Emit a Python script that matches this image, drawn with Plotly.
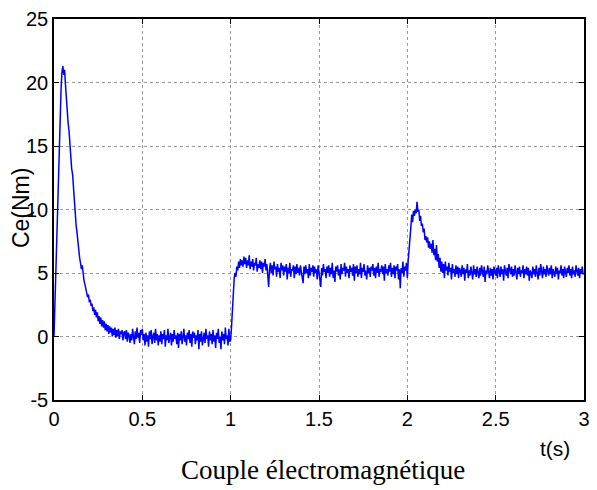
import numpy as np
import plotly.graph_objects as go

# Segment A: t = 0.000 .. 0.995 (step 0.005)
ce_a = [
    0, 2.5, 5.5, 8.5, 10.8, 13.5, 16.0, 17.8, 19.5, 20.8, 21.3, 20.6, 21.0, 19.8, 18.6, 18.2, 16.8, 16.2, 15.0, 14.3,
    13.2, 12.8, 11.6, 10.4, 9.3, 8.8, 8.2, 7.4, 7.0, 6.2, 5.8, 5.3, 5.6, 4.7, 4.4, 4.1, 3.7, 3.5, 3.1, 3.3,
    2.7, 2.9, 2.4, 2.6, 2.0, 2.3, 1.7, 2.1, 1.5, 1.9, 1.2, 1.6, 1.0, 1.5, 0.8, 1.3, 0.7, 1.2, 0.5, 1.0,
    0.4, 0.9, 0.2, 0.8, 0.3, 0.7, 0.0, 0.6, 0.1, 0.7, -0.1, 0.5, 0.0, 0.6, -0.2, 0.4, 0.2, 0.5, -0.3, 0.3,
    0.4, -0.2, 0.5, -0.4, 0.3, 0.1, -0.5, 0.2, -0.3, 0.6, 0.0, -0.6, 0.4, -0.2, 0.7, -0.1, 0.3, -0.5, 0.5, 0.1,
    0.6, -0.3, 0.2, -0.7, 0.3, -0.4, 0.1, -0.8, 0.4, -0.2, 0.5, -0.6, 0.0, 0.3, -0.5, 0.6, -0.3, 0.2, -0.7, 0.1,
    -0.4, 0.4, -0.6, 0.2, -0.2, 0.5, -0.8, 0.1, -0.3, 0.6, -0.5, 0.0, 0.3, -0.7, 0.2, -0.4, 0.5, -0.2, 0.1, -0.6,
    0.3, -0.9, 0.2, -0.3, 0.4, -0.6, 0.0, 0.6, -0.4, 0.1, -0.7, 0.3, -0.2, 0.5, -0.5, 0.2, -0.8, 0.4, -0.1, 0.3,
    -0.6, 0.1, -0.3, 0.5, -1.0, 0.2, -0.4, 0.4, -0.7, 0.0, 0.3, -0.5, 0.6, -0.2, 0.1, -0.8, 0.4, -0.3, 0.2, -0.6,
    0.5, -0.4, 0.1, -0.9, 0.3, -0.2, 0.6, -0.5, 0.0, -1.0, 0.4, -0.3, 0.2, -0.6, 0.7, -0.2, 0.1, -0.7, 0.6, -0.4,
]
# Segment B: t = 1.000 .. 1.995
ce_b = [
    -0.3, 0.8, 2.5, 3.8, 4.6, 5.0, 4.7, 5.5, 5.2, 5.9, 5.4, 6.1, 5.6, 6.0, 5.5, 6.3, 5.7, 6.2, 5.4, 6.0,
    5.6, 6.4, 5.3, 5.9, 5.5, 6.1, 5.2, 5.8, 5.6, 6.2, 5.1, 5.7, 5.4, 6.0, 5.3, 5.9, 5.0, 5.8, 5.5, 6.1,
    5.2, 5.7, 4.6, 3.9, 5.3, 5.8, 5.0, 5.6, 4.8, 5.9, 5.3, 5.5, 4.7, 5.7, 5.1, 5.4, 4.6, 5.8, 5.2, 5.6,
    4.8, 5.5, 5.1, 5.7, 4.5, 5.4, 5.0, 5.8, 4.7, 5.3, 5.2, 5.6, 4.6, 5.5, 4.9, 5.7, 5.0, 5.4, 4.8, 5.6,
    5.1, 4.6, 4.2, 5.5, 4.9, 5.6, 5.0, 5.3, 4.6, 5.7, 4.8, 5.4, 5.1, 5.6, 4.7, 5.5, 5.0, 5.3, 4.5, 5.6,
    5.0, 4.4, 3.9, 5.4, 4.8, 5.7, 5.1, 5.3, 4.6, 5.5, 5.0, 5.6, 4.7, 5.4, 4.9, 5.8, 4.6, 5.2, 4.3, 5.5,
    5.1, 5.6, 4.8, 5.3, 4.5, 5.7, 4.9, 5.4, 5.2, 5.8, 4.7, 5.5, 5.0, 5.3, 4.6, 5.6, 5.1, 5.4, 4.8, 5.7,
    4.4, 5.5, 5.0, 5.6, 4.7, 5.3, 4.9, 5.8, 4.6, 5.4, 5.1, 5.7, 4.8, 5.2, 4.5, 5.6, 5.0, 5.4, 4.7, 5.5,
    5.2, 5.7, 4.8, 5.4, 4.6, 5.5, 5.0, 5.8, 4.7, 5.3, 5.1, 5.6, 4.9, 5.5, 4.4, 5.7, 5.0, 5.3, 4.8, 5.6,
    5.1, 5.8, 4.7, 5.4, 4.9, 5.6, 4.6, 5.5, 5.2, 5.7, 4.5, 5.3, 3.8, 5.4, 5.0, 5.9, 4.7, 5.5, 5.2, 5.8,
]
# Segment C: t = 2.000 .. 3.000
ce_c = [
    4.6, 6.0, 7.2, 8.0, 8.6, 9.6, 9.0, 9.9, 9.5, 10.0, 9.7, 10.6, 9.8, 10.0, 9.1, 9.5, 8.7, 8.9, 8.2, 8.5,
    7.6, 7.9, 7.4, 7.8, 7.0, 7.5, 6.9, 7.3, 6.6, 7.6, 6.4, 6.9, 6.0, 7.2, 5.9, 6.5, 5.4, 6.2, 5.1, 5.9,
    5.0, 5.7, 4.6, 5.9, 5.2, 5.5, 4.8, 5.8, 5.1, 5.4, 4.5, 5.7, 5.0, 5.3, 4.7, 5.6, 4.9, 5.5, 4.6, 5.4,
    5.2, 4.7, 5.6, 4.9, 5.4, 4.4, 5.3, 5.0, 5.7, 4.6, 5.2, 4.8, 5.5, 5.0, 4.5, 5.6, 4.9, 5.3, 4.7, 5.5,
    5.0, 4.6, 5.4, 4.8, 5.6, 5.1, 4.7, 5.5, 4.3, 5.2, 4.9, 5.6, 5.0, 4.6, 5.4, 4.8, 5.3, 4.5, 5.5, 5.0,
    4.8, 5.4, 4.6, 5.6, 5.0, 4.7, 5.5, 4.9, 5.3, 4.4, 5.6, 5.0, 4.8, 5.4, 4.6, 5.7, 5.1, 4.9, 5.5, 4.7,
    5.3, 4.8, 5.6, 5.0, 4.5, 5.4, 4.9, 5.5, 4.7, 5.2, 5.0, 5.6, 4.6, 5.3, 4.9, 5.5, 4.8, 5.4, 4.4, 5.2,
    5.0, 4.6, 5.5, 4.9, 5.3, 4.7, 5.6, 5.0, 4.5, 5.4, 4.8, 5.7, 5.1, 4.6, 5.5, 4.9, 5.3, 4.7, 5.6, 5.0,
    4.8, 5.4, 4.9, 5.6, 4.6, 5.3, 5.0, 4.7, 5.5, 4.9, 5.4, 4.5, 5.2, 5.0, 5.6, 4.8, 5.3, 4.6, 5.5, 5.0,
    4.7, 5.4, 5.0, 5.6, 4.8, 5.3, 4.6, 5.5, 4.9, 5.2, 4.7, 5.6, 5.0, 4.8, 5.4, 4.6, 5.3, 5.0, 5.5, 4.9,
    5.0,
]
dt = 0.005
t_a = [0.0 + i * dt for i in range(len(ce_a))]
t_b = [1.0 + i * dt for i in range(len(ce_b))]
t_c = [2.0 + i * dt for i in range(len(ce_c))]
t = t_a + t_b + t_c
ce = ce_a + ce_b + ce_c

x_ticks = [0, 0.5, 1, 1.5, 2, 2.5, 3]
x_tick_labels = ["0", "0.5", "1", "1.5", "2", "2.5", "3"]
y_ticks = [-5, 0, 5, 10, 15, 20, 25]
y_tick_labels = ["-5", "0", "5", "10", "15", "20", "25"]

sans = "Liberation Sans, Arial, sans-serif"
tick_font = dict(family=sans, size=20, color="black")

fig = go.Figure()
fig.add_trace(go.Scatter(x=t, y=ce, mode="lines", line=dict(color="#0000ff", width=1.5), showlegend=False))

axis_common = dict(
    showline=True, linecolor="black", linewidth=1.5, mirror="ticks",
    ticks="inside", ticklen=5, tickcolor="black", tickwidth=1,
    showgrid=True, gridcolor="#9a9a9a", gridwidth=1, griddash="dot",
    zeroline=False, tickfont=tick_font, automargin=False,
)
fig.update_xaxes(range=[0, 3], tickvals=x_ticks, ticktext=x_tick_labels, **axis_common)
fig.update_yaxes(range=[-5, 25], tickvals=y_ticks, ticktext=y_tick_labels, **axis_common)

fig.add_annotation(text="t(s)", xref="paper", yref="paper", x=0.945, y=-0.126,
                   xanchor="center", yanchor="middle",
                   showarrow=False, font=dict(family=sans, size=21, color="black"))
fig.add_annotation(text="Ce(Nm)", xref="paper", yref="paper", x=-0.062, y=0.504, textangle=-90,
                   xanchor="center", yanchor="middle",
                   showarrow=False, font=dict(family=sans, size=23, color="black"))
fig.add_annotation(text="Couple électromagnétique", xref="paper", yref="paper", x=0.508, y=-0.185,
                   xanchor="center", yanchor="middle",
                   showarrow=False, font=dict(family="Liberation Serif, Times New Roman, serif", size=27, color="black"))

fig.update_layout(
    width=597, height=490,
    margin=dict(l=54, r=13, t=19, b=90),
    paper_bgcolor="white", plot_bgcolor="white",
)
fig.write_html("out.html")
